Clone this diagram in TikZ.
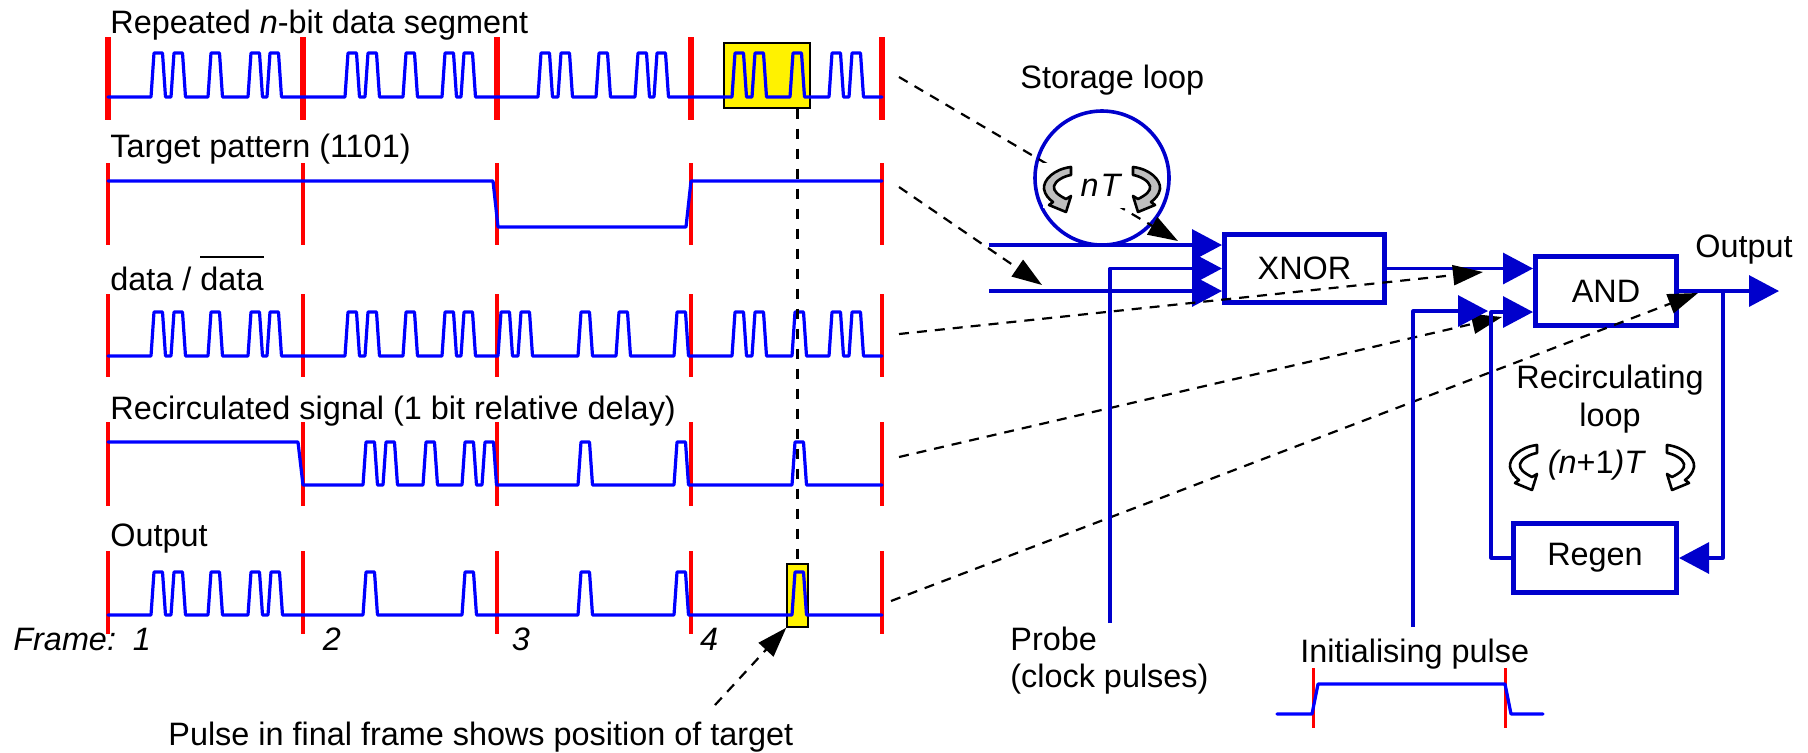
\documentclass[tikz,border=0pt]{standalone}
\usepackage{fontspec}
\setmainfont{Liberation Sans}
\usetikzlibrary{arrows.meta, positioning, calc}
\definecolor{blockblue}{HTML}{0000CC}
\newcommand{\Train}[3]{\foreach \x in {#3}{ -- (\x,#1) -- (\x+3,#2) -- (\x+11.5,#2) -- (\x+14.5,#1) }}
\newcommand{\Barred}[1]{\setbox0\hbox{#1}\rlap{\raisebox{16pt}{\rule{\wd0}{.8pt}}}#1}
\tikzset{
    curl/.pic = {
    \draw[black, line width=1.3pt, fill=#1, line join=round]
      (13,-22) .. controls (-4,-20) and (-15,-9) .. (-14,0)
      .. controls (-13,6) and (-9,10) .. (-5,13) -- (-9,16) -- (8,23) -- (13,7) -- (8,10)
      .. controls (0,6) and (-5,2) .. (-4,-3) .. controls (-3,-8) and (6,-13) .. (13,-14) -- cycle;
    },
    txt/.style={anchor=base west, inner sep=0pt, font=\fontsize{16.2}{18}\selectfont},
    mid/.style={txt, anchor=base},
    wave/.style={draw=blue, line width=1.6pt, line join=round, line cap=round},
    framebar/.style={draw=red, line width=#1},
    block/.style={draw=blockblue, line width=2.5pt, inner sep=0pt, font=\fontsize{16.2}{18}\selectfont},
    marker/.style={draw=black, fill=yellow, line width=.7pt, inner sep=0pt},
    feed/.style={draw=blockblue, line width=1.6pt, line join=round},
    tofeed/.style={feed, -{Triangle[length=15pt,width=15.5pt]}},
    hint/.style={draw=black, line width=1.1pt, dash pattern=on 5pt off 4pt, -{Triangle[length=15pt,width=10pt]}},
}
\begin{document}
\begin{tikzpicture}[x=0.5pt, y=-0.5pt]
    \useasboundingbox (0,0) rectangle (1808,752);

    % timing rows
    \node[marker, minimum width=43pt, minimum height=32.5pt] (segbox) at (767,75.5) {};
    \node[marker, minimum width=10.5pt, minimum height=31.5pt] (outbox) at (797.5,595.5) {};
    \foreach \ya/\yb/\lw in {37/120/2.6pt, 163/245/1.7pt, 294/377/2.4pt, 422/506/2.4pt, 551/634/2.2pt}
      \foreach \x in {108,303,497,691,882}
        \draw[framebar=\lw] (\x,\ya) -- (\x,\yb);

    \draw[wave] (108,97) \Train{97}{53}{151,171,208,248,267,345,365,403,442,461,538,558,596,635,654,732,752,790,829,849} -- (882,97);
    \draw[wave] (108,181) -- (493,181) -- (498,227) -- (686,227) -- (691,181) -- (882,181);
    \draw[wave] (108,356) \Train{356}{312}{151,171,208,248,267,345,365,403,442,461,498,518,578,616,674,732,752,792,829,849} -- (882,356);
    \draw[wave] (108,442) -- (298,442) -- (303,485) \Train{485}{442}{363,383,423,462,482,578,674,792} -- (882,485);
    \draw[wave] (108,615) \Train{615}{572}{151,171,208,248,268,363,462,578,674,792} -- (882,615);

    \node[txt] (seglabel) at (110,33) {Repeated \textit{n}-bit data segment};
    \node[txt] (tgtlabel) at (110,157) {Target pattern (1101)};
    \node[txt] (datalabel) at (110,290) {data / \Barred{data}};
    \node[txt] (reclabel) at (110,419) {Recirculated signal (1 bit relative delay)};
    \node[txt] (outlabel) at (110,546) {Output};
    \node[txt] (framelabel) at (13,650) {\textit{Frame:}};
    \node[mid] (frame1) at (142,650) {\textit{1}};
    \node[mid] (frame2) at (332,650) {\textit{2}};
    \node[mid] (frame3) at (521,650) {\textit{3}};
    \node[mid] (frame4) at (709,650) {\textit{4}};
    \node[txt] (pulselabel) at (168,745) {Pulse in final frame shows position of target};

    % circuit
    \node[block, minimum width=80pt, minimum height=34pt] (xnor) at (1304.5,268.5) {XNOR};
    \node[block, minimum width=70.5pt, minimum height=34.5pt] (andgate) at (1606,291) {AND};
    \node[block, minimum width=81.5pt, minimum height=34.5pt] (regen) at (1595,558) {Regen};
    \node[draw=blockblue, line width=1.8pt, circle, inner sep=0pt, minimum size=67pt] (storage) at (1102,178) {};

    \coordinate (storein) at (989,245);
    \coordinate (tgtin) at (989,291);
    \coordinate (probeend) at (1110,623);
    \coordinate (initend) at (1413,627);
    \coordinate (inittip) at (1488,311);
    \coordinate (rejoin) at (1491,312);
    \coordinate (fork) at (1723,291);
    \coordinate (outtip) at (1779,291);

    % dashed pointers from the rows
    \coordinate (h1) at (899,77);   \coordinate (t1) at (1178,241);
    \coordinate (h2) at (899,187);  \coordinate (t2) at (1042,285);
    \coordinate (h3) at (899,334);  \coordinate (t3) at (1483,272);
    \coordinate (h4) at (899,457);  \coordinate (t4) at (1502,317);
    \coordinate (h5) at (891,601);  \coordinate (t5) at (1698,293);
    \coordinate (h6) at (715,705);
    \draw[hint] (h1) -- (t1);
    \draw[hint] (h4) -- (t4);
    \draw[hint] (h5) -- (t5);

    \draw[tofeed] (storein) -- (xnor.west |- storein);
    \draw[tofeed] (tgtin) -- (xnor.west |- tgtin);
    \draw[tofeed] (probeend) |- (xnor.west);
    \draw[tofeed] (xnor.east) -- (andgate.west |- xnor.east);
    \draw[tofeed] (initend) |- (inittip);
    \draw[tofeed] (regen.west) -| (rejoin) -- (andgate.west |- rejoin);
    \draw[tofeed] (andgate.east) -- (outtip);
    \draw[tofeed] (fork) |- (regen.east);

    \draw[hint] (h2) -- (t2);
    \draw[hint] (h3) -- (t3);
    \draw[hint] (h6) -- (outbox.south west);
    \draw[draw=black, line width=1.5pt, dash pattern=on 5pt off 5pt] (segbox.south -| outbox.north) -- (outbox.north);

    \node[fill=white, inner sep=0pt, minimum width=58.5pt, minimum height=22.5pt, font=\fontsize{16.2}{18}\selectfont] (delay) at (1101.5,185.5) {\textit{n\kern1pt T}};
    \pic at (1058,189) {curl=lightgray};
    \pic[xscale=-1] at (1146,189) {curl=lightgray};

    \node[txt] (storelabel) at (1020,88) {Storage loop};
    \node[txt] (outlabel2) at (1695,257) {Output};
    \node[mid] (recirc) at (1610,388) {Recirculating};
    \node[mid] (loop) at (1610,426) {loop};
    \node[mid] (delay2) at (1597,473) {\textit{(n}+1\textit{)T}};
    \pic at (1524,467) {curl=white};
    \pic[xscale=-1] at (1680,467) {curl=white};

    \node[txt] (probe) at (1010,650) {Probe};
    \node[txt] (clock) at (1010,687) {(clock pulses)};
    \node[txt] (initlabel) at (1300,662) {Initialising pulse};
    \draw[framebar=1.5pt] (1313,668) -- (1313,728);
    \draw[framebar=1.5pt] (1505,668) -- (1505,728);
    \draw[wave] (1277,714) -- (1312,714) -- (1318,684) -- (1505,684) -- (1511,714) -- (1543,714);
\end{tikzpicture}
\end{document}
